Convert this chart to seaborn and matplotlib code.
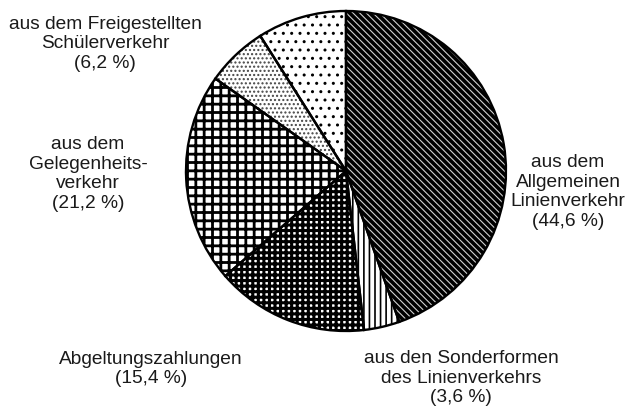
import matplotlib
matplotlib.use('Agg')
from matplotlib import pyplot as plt
import seaborn as sns

# Anteile der Erträge (in %), im Uhrzeigersinn ab 12 Uhr
shares = [44.6, 3.6, 15.4, 21.2, 6.2, 9.0]
labels = [
    'aus dem\nAllgemeinen\nLinienverkehr\n(44,6 %)',
    'aus den Sonderformen\ndes Linienverkehrs\n(3,6 %)',
    'Abgeltungszahlungen\n(15,4 %)',
    'aus dem\nGelegenheits-\nverkehr\n(21,2 %)',
    'aus dem Freigestellten\nSchülerverkehr\n(6,2 %)',
    '',
]
hatches = ['\\\\\\\\\\', '|||', '+++', '++', '....', '..']
faces = ['black', 'white', 'white', 'white', 'white', 'white']
hatch_colors = ['#d0d0d0', 'black', 'black', 'black', '#444444', 'black']
hatch_widths = [0.8, 1.2, 2.2, 2.0, 1.0, 1.0]
# label centres in pixel coordinates (x, y from top)
label_pos = [(568, 192), (461, 378), (151, 369), (88, 174), (105, 44), None]

sns.set_style('white')
plt.rcParams['font.family'] = ['Liberation Sans', 'DejaVu Sans']
plt.rcParams['hatch.linewidth'] = 1.2

W, H = 637, 415
fig = plt.figure(figsize=(W / 100, H / 100), dpi=100)
ax = fig.add_axes([0, 0, 1, 1])

center = (346, H - 171)
radius = 160

# pass 1: fill + hatches (hatch colour follows the edge colour)
wedges, _ = ax.pie(shares, startangle=90, counterclock=False,
                   center=center, radius=radius,
                   wedgeprops=dict(linewidth=0))
for w, fc, hc, hp, hw in zip(wedges, faces, hatch_colors, hatches, hatch_widths):
    w.set_facecolor(fc)
    w.set_edgecolor(hc)
    w.set_hatch(hp)
    if hasattr(w, 'set_hatch_linewidth'):
        w.set_hatch_linewidth(hw)

# pass 2: black outlines
ax.pie(shares, startangle=90, counterclock=False,
       center=center, radius=radius,
       wedgeprops=dict(facecolor='none', edgecolor='black', linewidth=1.7))

for txt, pos in zip(labels, label_pos):
    if pos is None:
        continue
    ax.text(pos[0], H - pos[1], txt, ha='center', va='center',
            fontsize=13.8, color='#1a1a1a', linespacing=1.2)

ax.set_xlim(0, W)
ax.set_ylim(0, H)
ax.set_aspect('equal')
ax.axis('off')

fig.savefig('out.png', dpi=100)
